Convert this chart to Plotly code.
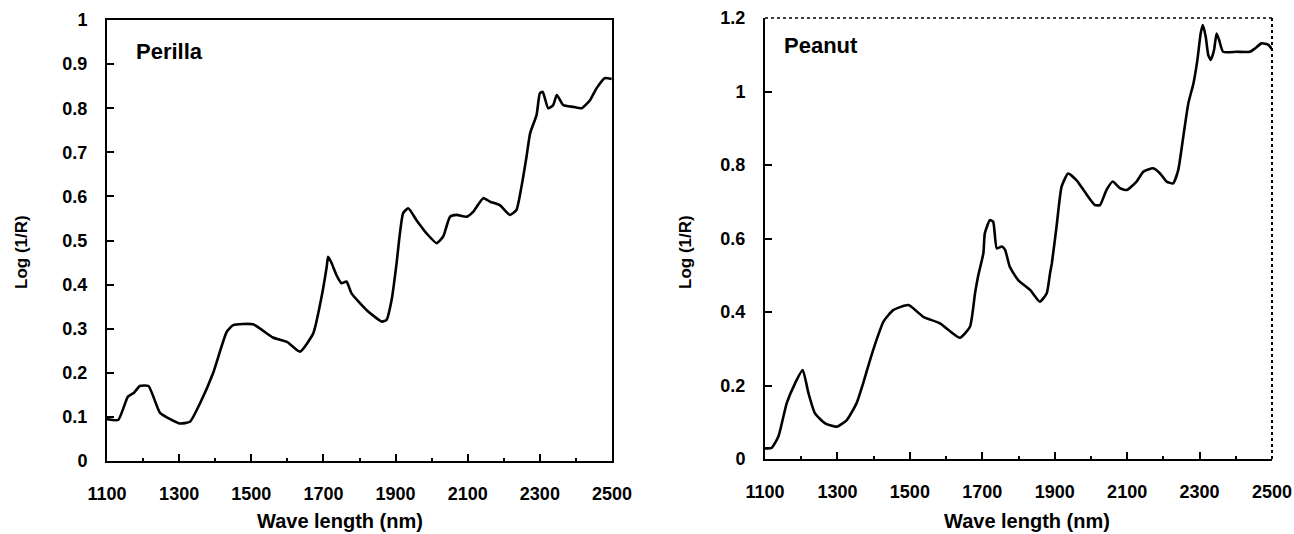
import plotly.graph_objects as go

# ---------------- data ----------------
perilla_wl = [1100, 1131, 1158, 1175, 1191, 1215, 1247, 1275, 1302, 1330, 1358, 1394, 1432, 1450,
              1505, 1560, 1599, 1635, 1672, 1695, 1709, 1713, 1722, 1737, 1750, 1764, 1778, 1820,
              1862, 1875, 1889, 1903, 1912, 1921, 1935, 1958, 1986, 2014, 2032, 2051, 2069, 2097,
              2115, 2143, 2162, 2189, 2217, 2235, 2249, 2263, 2273, 2291, 2300, 2308, 2323, 2337,
              2347, 2365, 2393, 2416, 2439, 2457, 2480, 2499]
perilla_val = [0.095, 0.093, 0.146, 0.155, 0.170, 0.170, 0.109, 0.095, 0.085, 0.089, 0.131, 0.199,
               0.293, 0.308, 0.310, 0.280, 0.270, 0.248, 0.290, 0.373, 0.440, 0.463, 0.450, 0.420,
               0.403, 0.407, 0.380, 0.342, 0.316, 0.320, 0.365, 0.450, 0.516, 0.562, 0.573, 0.546,
               0.516, 0.494, 0.509, 0.554, 0.558, 0.554, 0.565, 0.596, 0.588, 0.580, 0.558, 0.569,
               0.622, 0.690, 0.743, 0.785, 0.834, 0.837, 0.800, 0.807, 0.830, 0.807, 0.803, 0.800,
               0.818, 0.845, 0.868, 0.866]

peanut_wl = [1100, 1118, 1137, 1160, 1183, 1204, 1220, 1238, 1266, 1298, 1326, 1353, 1371, 1390,
             1408, 1427, 1454, 1496, 1537, 1583, 1638, 1666, 1680, 1689, 1703, 1707, 1721, 1730,
             1740, 1754, 1763, 1776, 1799, 1832, 1859, 1878, 1887, 1892, 1905, 1919, 1937, 1960,
             1983, 2011, 2025, 2043, 2060, 2080, 2099, 2126, 2145, 2172, 2191, 2209, 2227, 2241,
             2255, 2269, 2283, 2294, 2303, 2309, 2317, 2324, 2331, 2340, 2347, 2354, 2365, 2402,
             2439, 2453, 2471, 2490, 2500]
peanut_val = [0.029, 0.030, 0.061, 0.152, 0.206, 0.242, 0.179, 0.124, 0.097, 0.088, 0.106, 0.152,
              0.206, 0.269, 0.324, 0.374, 0.405, 0.419, 0.387, 0.369, 0.330, 0.360, 0.451, 0.500,
              0.560, 0.614, 0.650, 0.646, 0.573, 0.578, 0.569, 0.523, 0.487, 0.460, 0.428, 0.451,
              0.505, 0.532, 0.632, 0.741, 0.777, 0.759, 0.727, 0.691, 0.691, 0.732, 0.755, 0.737,
              0.732, 0.755, 0.782, 0.791, 0.777, 0.755, 0.750, 0.786, 0.877, 0.968, 1.022, 1.086,
              1.158, 1.181, 1.149, 1.099, 1.086, 1.113, 1.158, 1.140, 1.108, 1.108, 1.108, 1.117,
              1.131, 1.127, 1.115]

x_ticks = [1100, 1300, 1500, 1700, 1900, 2100, 2300, 2500]
y1_ticks = [0, 0.1, 0.2, 0.3, 0.4, 0.5, 0.6, 0.7, 0.8, 0.9, 1]
y1_labels = ["0", "0.1", "0.2", "0.3", "0.4", "0.5", "0.6", "0.7", "0.8", "0.9", "1"]
y2_ticks = [0, 0.2, 0.4, 0.6, 0.8, 1.0, 1.2]
y2_labels = ["0", "0.2", "0.4", "0.6", "0.8", "1", "1.2"]
titles = ["Perilla", "Peanut"]
x_title = "Wave length (nm)"
y_title = "Log (1/R)"

W, H = 1294, 534
FONT = "Arial, Liberation Sans, sans-serif"
tickfont = dict(family=FONT, size=18, color="black", weight="bold")

fig = go.Figure()
fig.add_trace(go.Scatter(x=perilla_wl, y=perilla_val, mode="lines",
                         line=dict(color="black", width=2.6, shape="spline", smoothing=0.5),
                         xaxis="x", yaxis="y", showlegend=False))
fig.add_trace(go.Scatter(x=peanut_wl, y=peanut_val, mode="lines",
                         line=dict(color="black", width=2.6, shape="spline", smoothing=0.5),
                         xaxis="x2", yaxis="y2", showlegend=False))

def px_x(p):
    return p / W

def px_y(p):
    return 1 - p / H

common_x = dict(range=[1100, 2500], tickvals=x_ticks, ticks="inside", ticklen=7, tickwidth=1.5,
                tickcolor="black", showgrid=False, zeroline=False, showline=True, linecolor="black",
                linewidth=2, tickfont=tickfont, ticklabelstandoff=15, automargin=False,
                minor=dict(dtick=100, ticks="inside", ticklen=3, tickcolor="black", showgrid=False))
common_y = dict(ticks="inside", ticklen=7, tickwidth=1.5, tickcolor="black", showgrid=False,
                zeroline=False, showline=True, linecolor="black", linewidth=2, automargin=False,
                tickfont=tickfont, ticklabelstandoff=14)

fig.update_layout(
    width=W, height=H, margin=dict(l=0, r=0, t=0, b=0, autoexpand=False),
    paper_bgcolor="white", plot_bgcolor="white",
    xaxis=dict(common_x, domain=[px_x(107), px_x(612)], anchor="y", mirror=True),
    yaxis=dict(common_y, domain=[px_y(461), px_y(20)], anchor="x", range=[0, 1],
               tickvals=y1_ticks, ticktext=y1_labels, mirror=True),
    xaxis2=dict(common_x, domain=[px_x(765), px_x(1272)], anchor="y2"),
    yaxis2=dict(common_y, domain=[px_y(459), px_y(18)], anchor="x2", range=[0, 1.2],
                tickvals=y2_ticks, ticktext=y2_labels),
)

# dotted top and right border for the peanut panel
fig.add_shape(type="line", xref="x2 domain", yref="y2 domain", x0=0, x1=1, y0=1, y1=1,
              line=dict(color="black", width=1.5, dash="dot"))
fig.add_shape(type="line", xref="x2 domain", yref="y2 domain", x0=1, x1=1, y0=0, y1=1,
              line=dict(color="black", width=2, dash="dot"))

annfont = dict(family=FONT, size=22, color="black", weight="bold")
# panel labels
fig.add_annotation(text=titles[0], xref="paper", yref="paper", x=px_x(134), y=px_y(51),
                   xanchor="left", yanchor="middle", showarrow=False, font=annfont)
fig.add_annotation(text=titles[1], xref="paper", yref="paper", x=px_x(782), y=px_y(46),
                   xanchor="left", yanchor="middle", showarrow=False, font=annfont)
# axis titles
for cx in (340, 1027):
    fig.add_annotation(text=x_title, xref="paper", yref="paper", x=px_x(cx), y=px_y(521),
                       xanchor="center", yanchor="middle", showarrow=False,
                       font=dict(family=FONT, size=20, color="black", weight="bold"))
for cx in (21, 685):
    fig.add_annotation(text=y_title, xref="paper", yref="paper", x=px_x(cx), y=px_y(252),
                       xanchor="center", yanchor="middle", showarrow=False, textangle=-90,
                       font=dict(family=FONT, size=17, color="black", weight="bold"))

fig.write_html("out.html")
